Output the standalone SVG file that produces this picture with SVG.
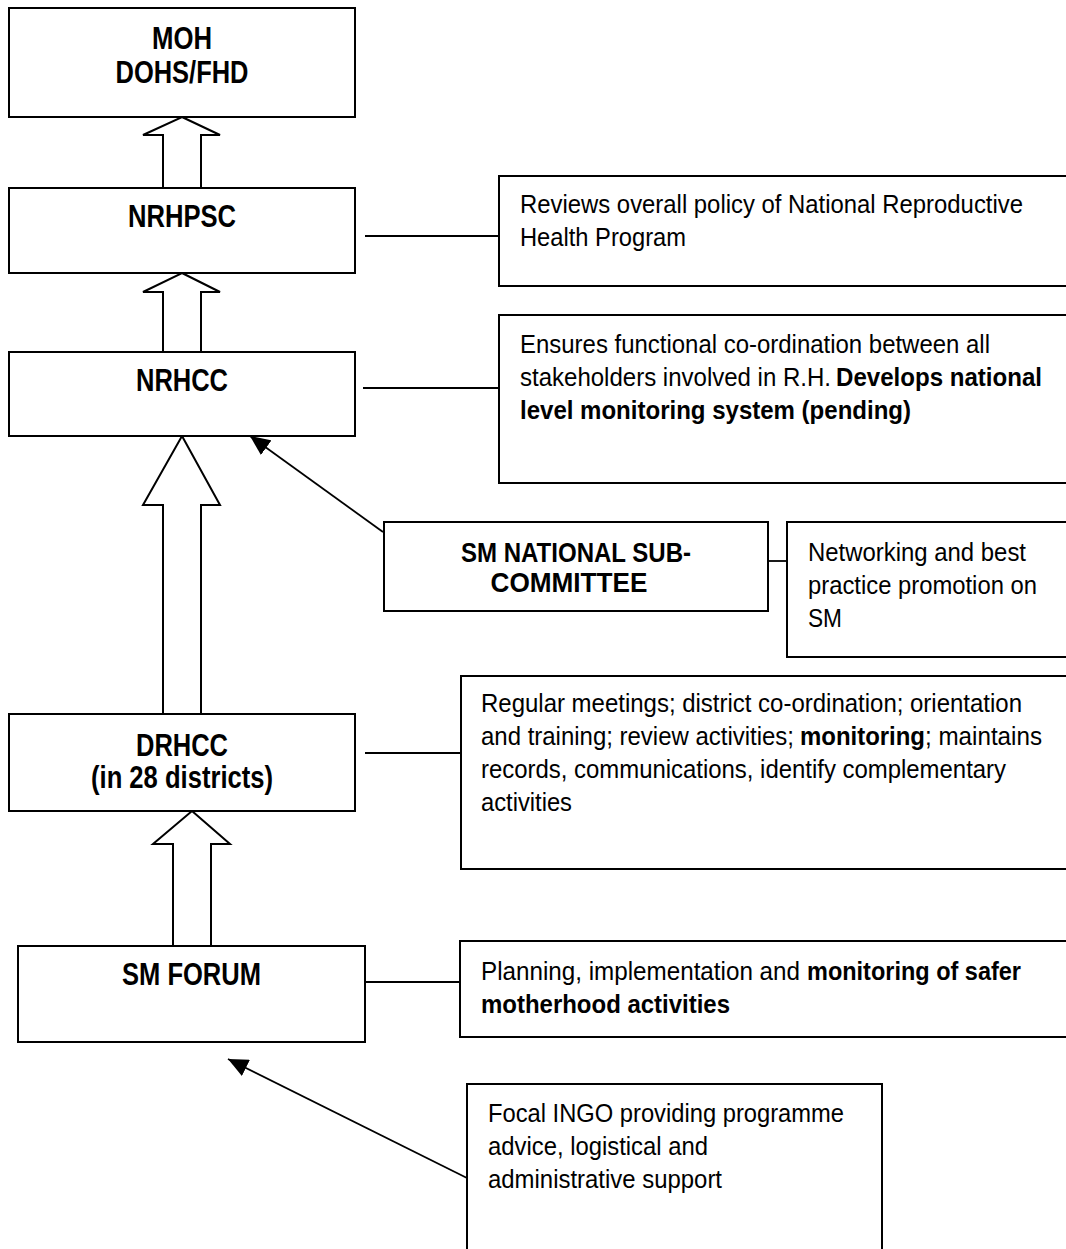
<svg xmlns="http://www.w3.org/2000/svg" width="1066" height="1249" viewBox="0 0 1066 1249">
<style>
.box{fill:#fff;stroke:#000;stroke-width:2}
.blk{fill:#fff;stroke:#000;stroke-width:2;stroke-linejoin:miter}
.ln{fill:none;stroke:#000;stroke-width:1.8}
.t{font-family:"Liberation Sans",Arial,sans-serif;font-size:31px;font-weight:bold;fill:#000;text-anchor:middle}
.ts{font-family:"Liberation Sans",Arial,sans-serif;font-size:28px;font-weight:bold;fill:#000;text-anchor:middle}
.d{font-family:"Liberation Sans",Arial,sans-serif;font-size:25px;fill:#000}
.b{font-weight:bold}
</style>
<defs>
<marker id="ah" markerUnits="userSpaceOnUse" markerWidth="21" markerHeight="18" refX="20" refY="9" orient="auto">
<path d="M0,0 L20,9 L0,18 z" fill="#000"/>
</marker>
</defs>
<rect width="1066" height="1249" fill="#fff"/>

<g id="connectors">
<polygon class="blk" points="182,117 220,135 201,135 201,188 163,188 163,135 143,135"/>
<polygon class="blk" points="182,273 220,292 201,292 201,352 163,352 163,292 143,292"/>
<polygon class="blk" points="182,436 220,505 201,505 201,714 163,714 163,505 143,505"/>
<polygon class="blk" points="192,811 230,844 211,844 211,946 173,946 173,844 153,844"/>
<line class="ln" x1="365" y1="236" x2="499" y2="236"/>
<line class="ln" x1="363" y1="388" x2="499" y2="388"/>
<line class="ln" x1="768" y1="561" x2="787" y2="561"/>
<line class="ln" x1="365" y1="753" x2="461" y2="753"/>
<line class="ln" x1="365" y1="982" x2="460" y2="982"/>
<line class="ln" x1="383" y1="532" x2="250" y2="436" marker-end="url(#ah)"/>
<line class="ln" x1="467" y1="1178" x2="228" y2="1059" marker-end="url(#ah)"/>
</g>

<g id="moh">
<rect class="box" x="9" y="8" width="346" height="109"/>
<text class="t" x="182" y="49" textLength="60" lengthAdjust="spacingAndGlyphs">MOH</text>
<text class="t" x="182" y="83" textLength="133" lengthAdjust="spacingAndGlyphs">DOHS/FHD</text>
</g>

<g id="nrhpsc">
<rect class="box" x="9" y="188" width="346" height="85"/>
<text class="t" x="182" y="227" textLength="108" lengthAdjust="spacingAndGlyphs">NRHPSC</text>
</g>

<g id="nrhpsc-desc">
<rect class="box" x="499" y="176" width="580" height="110"/>
<text class="d" x="520" y="213" textLength="503" lengthAdjust="spacingAndGlyphs">Reviews overall policy of National Reproductive</text>
<text class="d" x="520" y="246" textLength="166" lengthAdjust="spacingAndGlyphs">Health Program</text>
</g>

<g id="nrhcc">
<rect class="box" x="9" y="352" width="346" height="84"/>
<text class="t" x="182" y="391" textLength="92" lengthAdjust="spacingAndGlyphs">NRHCC</text>
</g>

<g id="nrhcc-desc">
<rect class="box" x="499" y="315" width="580" height="168"/>
<text class="d" x="520" y="353" textLength="470" lengthAdjust="spacingAndGlyphs">Ensures functional co-ordination between all</text>
<text class="d" x="520" y="386" textLength="311" lengthAdjust="spacingAndGlyphs">stakeholders involved in R.H.</text>
<text class="d b" x="836" y="386" textLength="206" lengthAdjust="spacingAndGlyphs">Develops national</text>
<text class="d b" x="520" y="419" textLength="391" lengthAdjust="spacingAndGlyphs">level monitoring system (pending)</text>
</g>

<g id="sm-national">
<rect class="box" x="384" y="522" width="384" height="89"/>
<text class="ts" x="576" y="562" textLength="230" lengthAdjust="spacingAndGlyphs">SM NATIONAL SUB-</text>
<text class="ts" x="569" y="592" textLength="157" lengthAdjust="spacingAndGlyphs">COMMITTEE</text>
</g>

<g id="sm-national-desc">
<rect class="box" x="787" y="522" width="290" height="135"/>
<text class="d" x="808" y="561" textLength="218" lengthAdjust="spacingAndGlyphs">Networking and best</text>
<text class="d" x="808" y="594" textLength="229" lengthAdjust="spacingAndGlyphs">practice promotion on</text>
<text class="d" x="808" y="627" textLength="34" lengthAdjust="spacingAndGlyphs">SM</text>
</g>

<g id="drhcc">
<rect class="box" x="9" y="714" width="346" height="97"/>
<text class="t" x="182" y="756" textLength="92" lengthAdjust="spacingAndGlyphs">DRHCC</text>
<text class="t" x="182" y="788" textLength="182" lengthAdjust="spacingAndGlyphs">(in 28 districts)</text>
</g>

<g id="drhcc-desc">
<rect class="box" x="461" y="676" width="620" height="193"/>
<text class="d" x="481" y="712" textLength="541" lengthAdjust="spacingAndGlyphs">Regular meetings; district co-ordination; orientation</text>
<text class="d" x="481" y="745" textLength="313" lengthAdjust="spacingAndGlyphs">and training; review activities;</text>
<text class="d b" x="800" y="745" textLength="125" lengthAdjust="spacingAndGlyphs">monitoring</text>
<text class="d" x="925" y="745" textLength="117" lengthAdjust="spacingAndGlyphs">; maintains</text>
<text class="d" x="481" y="778" textLength="525" lengthAdjust="spacingAndGlyphs">records, communications, identify complementary</text>
<text class="d" x="481" y="811" textLength="91" lengthAdjust="spacingAndGlyphs">activities</text>
</g>

<g id="sm-forum">
<rect class="box" x="18" y="946" width="347" height="96"/>
<text class="t" x="191.5" y="985" textLength="139" lengthAdjust="spacingAndGlyphs">SM FORUM</text>
</g>

<g id="sm-forum-desc">
<rect class="box" x="460" y="941" width="620" height="96"/>
<text class="d" x="481" y="980" textLength="319" lengthAdjust="spacingAndGlyphs">Planning, implementation and</text>
<text class="d b" x="807" y="980" textLength="214" lengthAdjust="spacingAndGlyphs">monitoring of safer</text>
<text class="d b" x="481" y="1013" textLength="249" lengthAdjust="spacingAndGlyphs">motherhood activities</text>
</g>

<g id="focal-ingo">
<rect class="box" x="467" y="1084" width="415" height="180"/>
<text class="d" x="488" y="1122" textLength="356" lengthAdjust="spacingAndGlyphs">Focal INGO providing programme</text>
<text class="d" x="488" y="1155" textLength="220" lengthAdjust="spacingAndGlyphs">advice, logistical and</text>
<text class="d" x="488" y="1188" textLength="234" lengthAdjust="spacingAndGlyphs">administrative support</text>
</g>
</svg>
